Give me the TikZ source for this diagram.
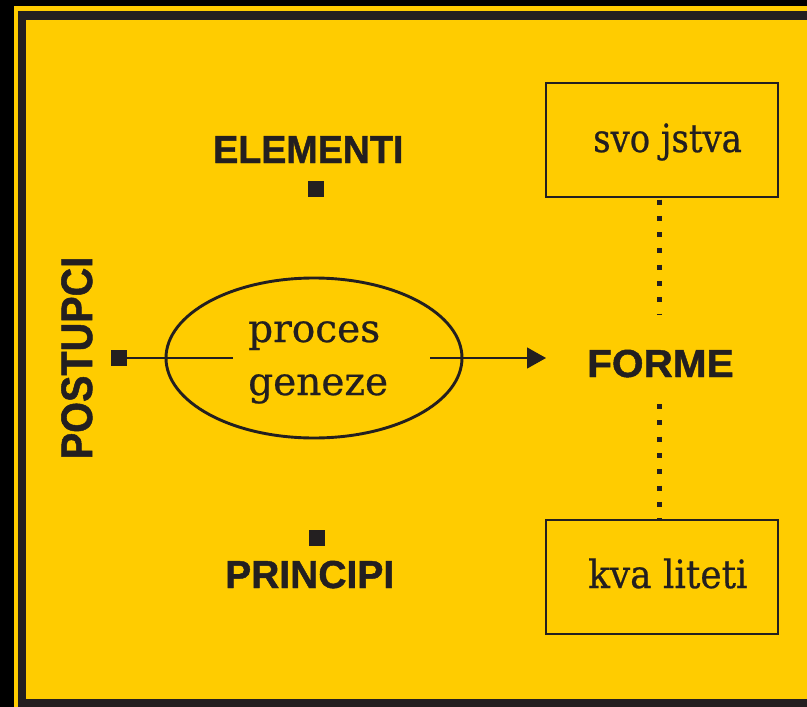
\documentclass[tikz,border=0pt]{standalone}
\usepackage{fontspec}
\setmainfont{Liberation Sans}
\newfontfamily\capfont{Liberation Sans}[BoldFeatures={FakeBold=1.2}]
\newfontfamily\slabfont{DejaVu Serif}[FakeBold=0.6]
\usetikzlibrary{arrows.meta,shapes.geometric}
\definecolor{ybg}{HTML}{FFCC00}
\definecolor{ink}{HTML}{231F20}
\tikzset{
  bigcap/.style={font=\capfont\fontsize{39}{39}\selectfont\bfseries, text=ink, inner sep=0pt, anchor=base west},
  slab/.style={font=\slabfont\fontsize{39}{39}\selectfont, text=ink, inner sep=0pt, anchor=base west},
  sq/.style={fill=ink, minimum size=16pt, inner sep=0pt},
  framebox/.style={draw=ink, line width=2.7pt, inner sep=0pt, minimum width=232pt, minimum height=114pt},
  thinline/.style={draw=ink, line width=1.3pt},
  dotline/.style={draw=ink, line width=5pt, dash pattern=on 5pt off 11.3pt}
}
\begin{document}
\begin{tikzpicture}[x=1pt,y=-1pt]
\useasboundingbox (0,0) rectangle (807,707);
% frame
\fill[black] (0,0) rectangle (807,707);
\fill[ybg] (14,6) rectangle (807,707);
\fill[ink] (18,11) rectangle (807,707);
\fill[ybg] (26,20) rectangle (807,699);
% labels
\node[bigcap] (elem) at (213,163) {\scalebox{0.965}[1]{ELEMENTI}};
\node[bigcap] (princ) at (225,588) {PRINCIPI};
\node[bigcap] (forme) at (587,377) {\scalebox{1.04}[1]{FORME}};
\node[font=\capfont\fontsize{44}{44}\selectfont\bfseries, text=ink, inner sep=0pt, anchor=base, rotate=90] (post) at (92,358) {\scalebox{0.9}[1]{POSTUPCI}};
% squares
\node[sq] (sqE) at (316,189) {};
\node[sq] (sqP) at (316.5,538) {};
\node[sq] (sqL) at (119,358) {};
% ellipse
\node[draw=ink, line width=2.9pt, ellipse, minimum width=296pt, minimum height=160pt, inner sep=0pt] (ell) at (314,358) {};
\node[slab] (t1) at (248,342) {proces};
\node[slab] (t2) at (248,395) {geneze};
% boxes
\node[framebox] (sv) at (662,140) {};
\node[framebox] (kv) at (662,577) {};
\node[slab] (svt) at (593,152) {\scalebox{0.87}[1]{svo jstva}};
\node[slab] (kvt) at (588,588) {\scalebox{0.92}[1]{kva liteti}};
% connectors
\coordinate (lEnd) at (233,358);
\coordinate (rStart) at (430,358);
\coordinate (tip) at (546,358);
\draw[thinline] (sqL.east) -- (lEnd);
\draw[thinline, -{Triangle[length=19pt,width=21pt]}] (rStart) -- (tip);
\coordinate (d1) at (659,315);
\coordinate (d2) at (659,404);
\draw[dotline] (659,199.5) -- (d1);
\draw[dotline] (d2) -- (kv.north -| d2);
\end{tikzpicture}
\end{document}
